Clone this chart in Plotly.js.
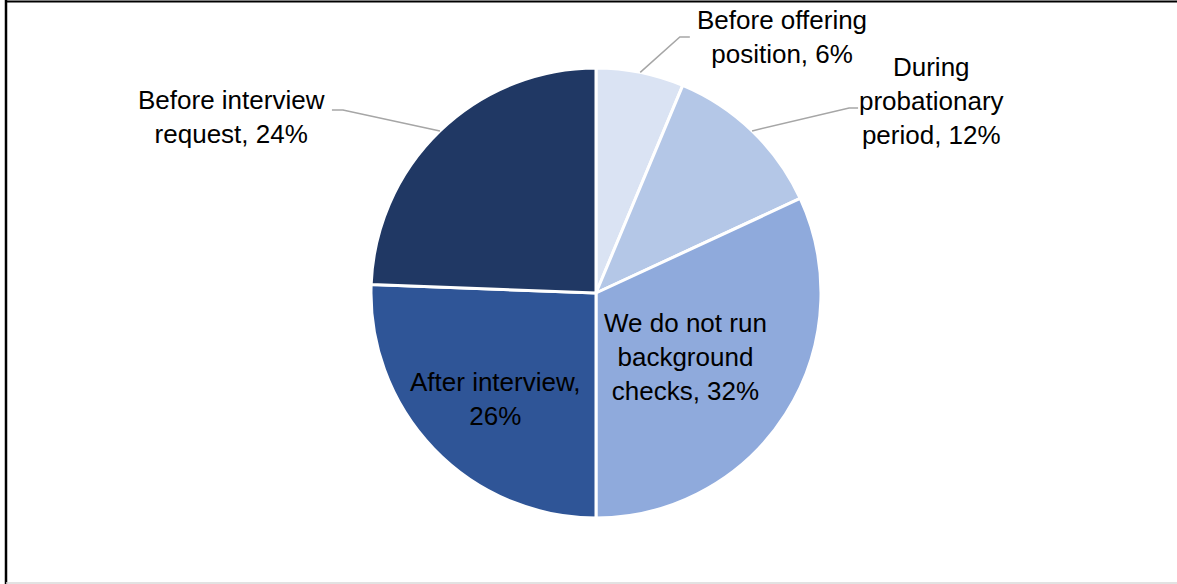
<!DOCTYPE html>
<html>
<head>
<meta charset="utf-8">
<script src="https://cdn.plot.ly/plotly-3.0.1.min.js"></script>
<style>html,body{margin:0;padding:0;background:#fff;}#chart{width:1177px;height:584px;}</style>
</head>
<body>
<div id="chart"></div>
<script>
// ---- data ----
const categories = [
  "Before offering position",
  "During probationary period",
  "We do not run background checks",
  "After interview",
  "Before interview request"
];
const shares = [6.3, 11.8, 31.9, 25.6, 24.4];
const labelTemplates = [
  "Before offering<br>position, {p}%",
  "During<br>probationary<br>period, {p}%",
  "We do not run<br>background<br>checks, {p}%",
  "After interview,<br>{p}%",
  "Before interview<br>request, {p}%"
];
const colors = ["#DAE3F3", "#B4C7E7", "#8FAADC", "#2F5597", "#203864"];

// ---- layout geometry ----
const W = 1177, H = 584;
const CX = 596, CY = 293, R = 225;
// label placement: inside -> radial fraction + pixel nudge; outside -> pixel offsets from slice edge
const placement = [
  {type: "out", label: [142, -35.4], elbow: [39.6, -35.4], end: [49.6, -35.4]},
  {type: "out", label: [179, -30], elbow: [97, -23], end: [106, -23]},
  {type: "in", r: 0.485, nudge: [-2, 5.5]},
  {type: "in", r: 0.65, nudge: [4.5, 5]},
  {type: "out", label: [-208, -14], elbow: [-97, -21], end: [-108, -21]}
];

const px = x => x / W;
const py = y => 1 - y / H;

const total = shares.reduce((a, b) => a + b, 0);
const font = {family: "Liberation Sans, Arial, sans-serif", size: 26, color: "#000"};
let cum = 0;
const annotations = [];
const shapes = [];
shares.forEach((v, i) => {
  const mid = (cum + v / 2) / total * 2 * Math.PI;
  cum += v;
  const p = placement[i];
  const text = labelTemplates[i].replace("{p}", Math.round(v / total * 100));
  if (p.type === "in") {
    const lx = CX + p.r * R * Math.sin(mid) + p.nudge[0];
    const ly = CY - p.r * R * Math.cos(mid) + p.nudge[1];
    annotations.push({x: px(lx), y: py(ly), xref: "paper", yref: "paper", text: text,
      showarrow: false, xanchor: "center", yanchor: "middle", align: "center", font: font});
  } else {
    const ex = CX + R * Math.sin(mid);
    const ey = CY - R * Math.cos(mid);
    annotations.push({x: px(ex + p.label[0]), y: py(ey + p.label[1]), xref: "paper", yref: "paper",
      text: text, showarrow: false, xanchor: "center", yanchor: "middle", align: "center", font: font});
    shapes.push({type: "path", xref: "paper", yref: "paper",
      path: `M ${px(ex)} ${py(ey)} L ${px(ex + p.elbow[0])} ${py(ey + p.elbow[1])} L ${px(ex + p.end[0])} ${py(ey + p.end[1])}`,
      line: {color: "#A6A6A6", width: 1.5}});
  }
});

// chart frame
shapes.push({type: "line", xref: "paper", yref: "paper", x0: px(5), x1: 1, y0: py(1.5), y1: py(1.5), line: {color: "#000", width: 2}});
shapes.push({type: "line", xref: "paper", yref: "paper", x0: px(6), x1: px(6), y0: 0, y1: 1, line: {color: "#000", width: 2.5}});
shapes.push({type: "line", xref: "paper", yref: "paper", x0: px(6), x1: 1, y0: py(583), y1: py(583), line: {color: "#D9D9D9", width: 1.5}});

const trace = {
  type: "pie",
  labels: categories,
  values: shares,
  sort: false,
  direction: "clockwise",
  rotation: 0,
  textinfo: "none",
  hoverinfo: "label+percent",
  marker: {colors: colors, line: {color: "#FFFFFF", width: 3}},
  domain: {x: [(CX - R) / W, (CX + R) / W], y: [1 - (CY + R) / H, 1 - (CY - R) / H]},
  showlegend: false
};

const layout = {
  width: W, height: H,
  margin: {l: 0, r: 0, t: 0, b: 0},
  paper_bgcolor: "#fff",
  showlegend: false,
  annotations: annotations,
  shapes: shapes
};

Plotly.newPlot("chart", [trace], layout, {displayModeBar: false, staticPlot: true});
</script>
</body>
</html>
